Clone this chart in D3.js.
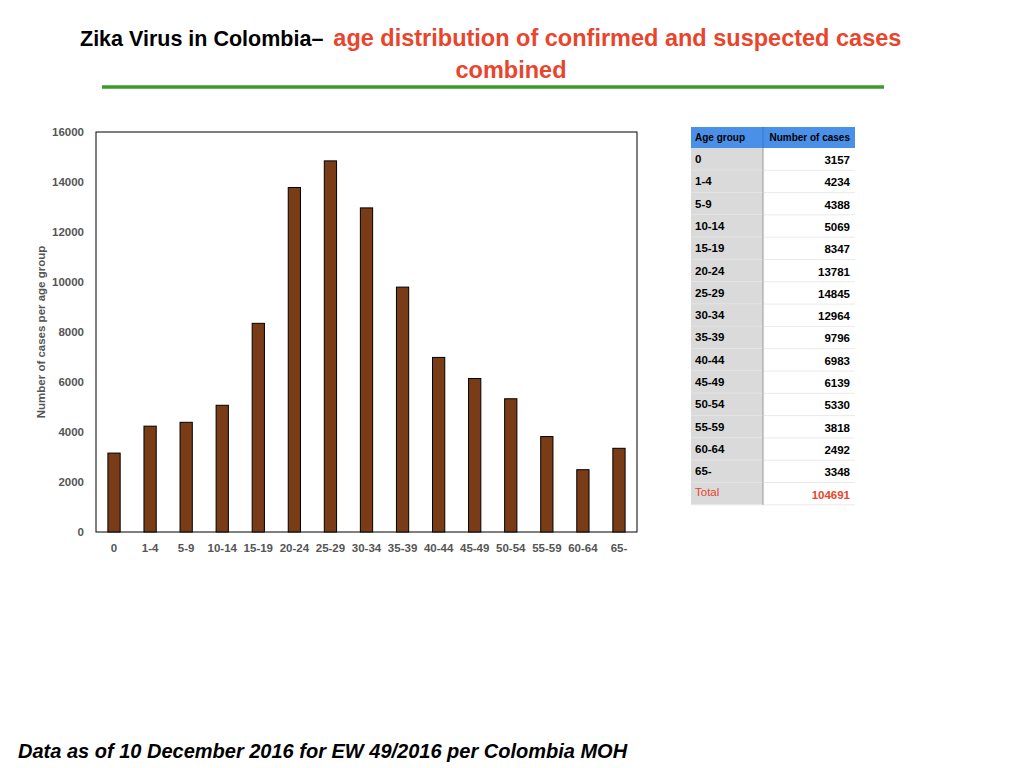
<!DOCTYPE html>
<html><head><meta charset="utf-8">
<script src="https://cdn.jsdelivr.net/npm/d3@7"></script>
<style>body{margin:0;background:#fff;font-family:"Liberation Sans",Arial,sans-serif;}</style>
</head><body><div id="chart"></div>
<script>
var ageGroups = ["0","1-4","5-9","10-14","15-19","20-24","25-29","30-34","35-39","40-44","45-49","50-54","55-59","60-64","65-"];
var cases = [3157,4234,4388,5069,8347,13781,14845,12964,9796,6983,6139,5330,3818,2492,3348];
var yTicks = [0,2000,4000,6000,8000,10000,12000,14000,16000];
var total = 104691;

var svg = d3.select("#chart").append("svg").attr("width",1024).attr("height",768);

// title
var t = svg.append("text").attr("x",80).attr("y",46).style("font-weight","bold");
t.append("tspan").attr("fill","#000").style("font-size","21.5px").text("Zika Virus in Colombia– ");
t.append("tspan").attr("fill","#e8452c").style("font-size","23.5px").attr("dx",4).text("age distribution of confirmed and suspected cases");
svg.append("text").attr("x",511).attr("y",78).attr("text-anchor","middle").attr("fill","#e8452c")
  .style("font-size","23.5px").style("font-weight","bold").text("combined");
svg.append("line").attr("x1",102).attr("x2",884).attr("y1",87).attr("y2",87).attr("stroke","#3b9a2b").attr("stroke-width",3.5);

// chart
var pLeft = 96, pRight = 637, pTop = 132, pBottom = 532;
var x = d3.scaleBand().domain(ageGroups).range([pLeft,pRight]).paddingInner(0.66).paddingOuter(0.33);
var y = d3.scaleLinear().domain([0,16000]).range([pBottom,pTop]);

svg.append("rect").attr("x",pLeft).attr("y",pTop).attr("width",pRight-pLeft).attr("height",pBottom-pTop)
  .attr("fill","none").attr("stroke","#000").attr("stroke-width",1);

svg.selectAll("rect.bar").data(cases).enter().append("rect").attr("class","bar")
  .attr("x",function(d,i){return x(ageGroups[i]);})
  .attr("y",function(d){return y(d);})
  .attr("width",x.bandwidth())
  .attr("height",function(d){return pBottom-y(d);})
  .attr("fill","#7a3b17").attr("stroke","#000").attr("stroke-width",1);

var ya = svg.append("g").attr("transform","translate("+pLeft+",0)")
  .call(d3.axisLeft(y).tickValues(yTicks).tickSize(0).tickPadding(12).tickFormat(d3.format("d")));
ya.select(".domain").remove();
ya.selectAll("text").attr("fill","#555").style("font-size","11.5px").style("font-weight","bold").style("font-family","Liberation Sans, Arial");

var xa = svg.append("g").attr("transform","translate(0,"+pBottom+")")
  .call(d3.axisBottom(x).tickSize(0).tickPadding(12));
xa.select(".domain").remove();
xa.selectAll("text").attr("fill","#555").style("font-size","11.5px").style("font-weight","bold").style("font-family","Liberation Sans, Arial");

svg.append("text").attr("transform","translate(45,332) rotate(-90)").attr("text-anchor","middle")
  .attr("fill","#555").style("font-size","11.5px").style("font-weight","bold").text("Number  of cases per age group");

// table
var tx = 691, c1 = 763, tw = 855, hy = 127, hh = 21, rh = 22.3;
svg.append("rect").attr("x",tx).attr("y",hy).attr("width",tw-tx).attr("height",hh).attr("fill","#4a8fe8");
svg.append("line").attr("x1",c1).attr("x2",c1).attr("y1",hy).attr("y2",hy+hh).attr("stroke","#3a76c4");
svg.append("text").attr("x",tx+4).attr("y",hy+14).style("font-size","10px").style("font-weight","bold").text("Age group");
svg.append("text").attr("x",tw-5).attr("y",hy+14).attr("text-anchor","end").style("font-size","10px").style("font-weight","bold").text("Number of cases");

var rows = ageGroups.map(function(g,i){return [g, cases[i], false];}).concat([["Total", total, true]]);
var ry0 = hy + hh;
var rg = svg.selectAll("g.row").data(rows).enter().append("g").attr("class","row")
  .attr("transform",function(d,i){return "translate(0,"+(ry0+i*rh)+")";});
rg.append("rect").attr("x",tx).attr("width",c1-tx).attr("height",rh).attr("fill","#dadada");
rg.append("line").attr("x1",tx).attr("x2",tw).attr("y1",rh).attr("y2",rh).attr("stroke","#eaeaea");
rg.append("line").attr("x1",c1).attr("x2",c1).attr("y1",0).attr("y2",rh).attr("stroke","#999");
rg.append("text").attr("x",tx+4).attr("y",function(d){return d[2]?13:15;}).style("font-size","11.5px").style("font-weight",function(d){return d[2]?"normal":"bold";})
  .attr("fill",function(d){return d[2]?"#e8452c":"#000";}).text(function(d){return d[0];});
rg.append("text").attr("x",tw-5).attr("y",16).attr("text-anchor","end").style("font-size","11.5px").style("font-weight","bold")
  .attr("fill",function(d){return d[2]?"#e8452c":"#000";}).text(function(d){return d[1];});

// footer
svg.append("text").attr("x",18).attr("y",758).style("font-size","20px").style("font-weight","bold").style("font-style","italic")
  .text("Data as of 10 December 2016 for EW 49/2016 per Colombia MOH");
</script></body></html>
